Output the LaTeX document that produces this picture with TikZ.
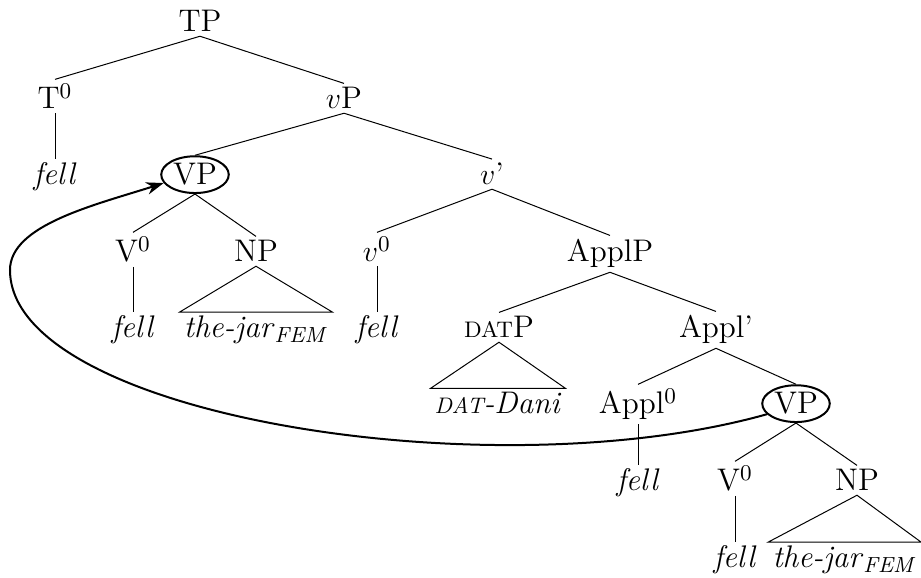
\documentclass[tikz,border=0pt]{standalone}
\usetikzlibrary{shapes.geometric,arrows.meta}

\tikzset{
    lab/.style={anchor=base, inner sep=1.5pt, font=\fontsize{12.5}{15}\selectfont},
    cerchio/.style={lab, draw, thick, ellipse, inner sep=0.8pt},
}

\begin{document}
\begin{tikzpicture}[x=0.4pt, y=-0.4pt]
        \useasboundingbox (0,0) rectangle (921,578);

        %%%%%%%%%% Nodi %%%%%%%%%%
        \node[lab] (tp)    at (200,32)  {TP};
        \node[lab] (t0)    at (55,109)  {T$^0$};
        \node[lab] (vsp)   at (344,109) {$v$P};
        \node[lab] (tfell) at (55,185)  {\textit{fell}};
        \node[cerchio] (vpa) at (195,185) {VP};
        \node[lab] (vbar)  at (492,185) {$v$’};
        \node[lab] (va)    at (133,262) {V$^0$};
        \node[lab] (npa)   at (256,262) {NP};
        \node[lab] (vs0)   at (377,262) {$v^0$};
        \node[lab] (applp) at (610,262) {ApplP};
        \node[lab] (vfa)   at (133,338) {\textit{fell}};
        \node[lab] (jara)  at (256,338) {\textit{the-jar}\textsubscript{\textit{FEM}}};
        \node[lab] (vsf)   at (377,338) {\textit{fell}};
        \node[lab] (datp)  at (499,338) {{\small DAT}P};
        \node[lab] (applb) at (716,338) {Appl’};
        \node[lab] (dani)  at (498,414) {\textit{{\small DAT}-Dani}};
        \node[lab] (appl0) at (638,414) {Appl$^0$};
        \node[cerchio] (vpb) at (796,414) {VP};
        \node[lab] (afell) at (638,491) {\textit{fell}};
        \node[lab] (vb)    at (735,491) {V$^0$};
        \node[lab] (npb)   at (857,491) {NP};
        \node[lab] (vfb)   at (735,568) {\textit{fell}};
        \node[lab,anchor=base east] (jarb) at (921,568) {\textit{the-jar}\textsubscript{\textit{FEM}}};

        %%%%%%%%% Rami %%%%%%%%%
        \foreach \a/\b in {tp/t0,tp/vsp,t0/tfell,vsp/vpa,vsp/vbar,vpa/va,vpa/npa,
                           va/vfa,vbar/vs0,vbar/applp,vs0/vsf,applp/datp,applp/applb,
                           applb/appl0,applb/vpb,appl0/afell,vpb/vb,vpb/npb,vb/vfb}
            \draw (\a.south) -- (\b.north);

        \foreach \a/\b in {npa/jara,datp/dani,npb/jarb}
            \draw (\a.south) -- (\b.north west) -- (\b.north east) -- cycle;

        %%%%%%%%% Frecce %%%%%%%%%
        \coordinate (curva) at (10,270);
        \draw[->,>={Stealth[length=7pt,width=5pt]},thick] (vpb.200) .. controls (490,492) and (10,415) .. (curva)
            .. controls (10,225) and (95,205) .. (vpa.195);
    \end{tikzpicture}
\end{document}
